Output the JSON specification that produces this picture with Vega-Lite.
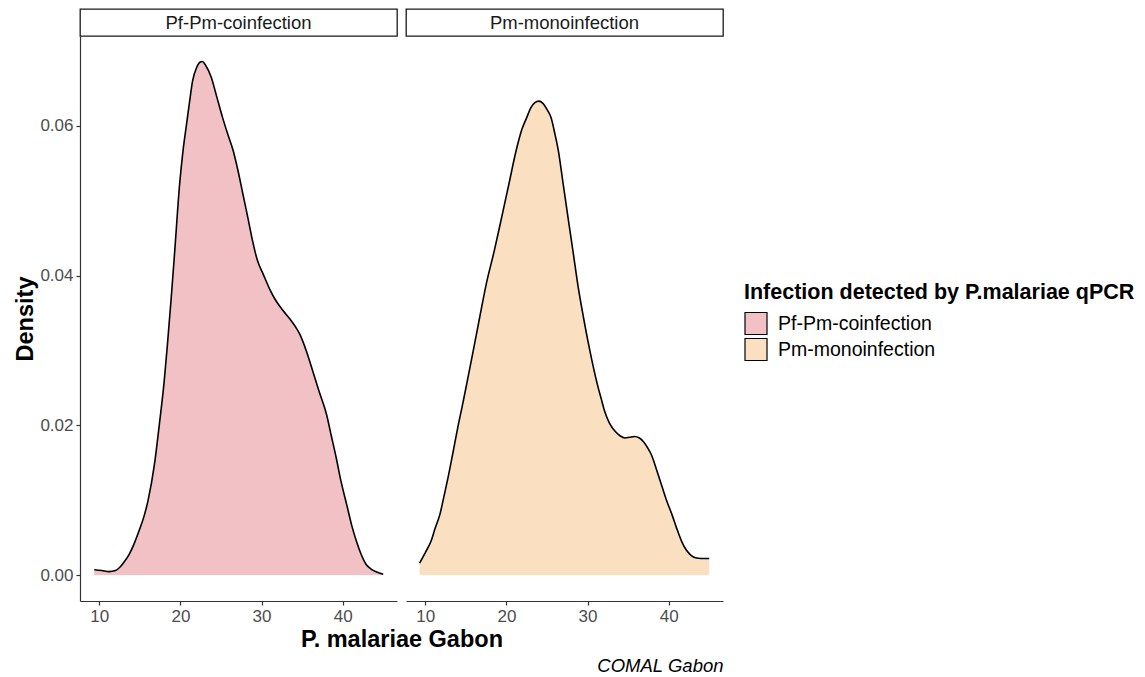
{
  "$schema": "https://vega.github.io/schema/vega-lite/v6.json",
  "background": "white",
  "padding": {"left": 13, "top": 8, "right": 0, "bottom": 0},
  "config": {
    "font": "Liberation Sans",
    "view": {"stroke": null},
    "axis": {"domainColor": "#333333", "domainWidth": 1.2, "tickColor": "#333333", "tickWidth": 1.2, "tickSize": 4, "labelColor": "#4D4D4D", "labelFontSize": 17, "labelPadding": 3, "grid": false, "titleColor": "black", "titleFontWeight": "bold"},
    "legend": {"padding": 0}
  },
  "datasets": {
    "strips": [{"infection": "Pf-Pm-coinfection"}, {"infection": "Pm-monoinfection"}],
    "dens": [
      {"infection": "Pf-Pm-coinfection", "x": 9.38, "d": 0.0007},
      {"infection": "Pf-Pm-coinfection", "x": 10.3, "d": 0.0006},
      {"infection": "Pf-Pm-coinfection", "x": 11.2, "d": 0.00045},
      {"infection": "Pf-Pm-coinfection", "x": 12.0, "d": 0.0006},
      {"infection": "Pf-Pm-coinfection", "x": 12.5, "d": 0.001},
      {"infection": "Pf-Pm-coinfection", "x": 13.1, "d": 0.0018},
      {"infection": "Pf-Pm-coinfection", "x": 13.7, "d": 0.0028},
      {"infection": "Pf-Pm-coinfection", "x": 14.3, "d": 0.0042},
      {"infection": "Pf-Pm-coinfection", "x": 14.9, "d": 0.0059},
      {"infection": "Pf-Pm-coinfection", "x": 15.5, "d": 0.0078},
      {"infection": "Pf-Pm-coinfection", "x": 16.0, "d": 0.0099},
      {"infection": "Pf-Pm-coinfection", "x": 16.8, "d": 0.0148},
      {"infection": "Pf-Pm-coinfection", "x": 17.4, "d": 0.0201},
      {"infection": "Pf-Pm-coinfection", "x": 18.0, "d": 0.0259},
      {"infection": "Pf-Pm-coinfection", "x": 18.4, "d": 0.0308},
      {"infection": "Pf-Pm-coinfection", "x": 18.9, "d": 0.0375},
      {"infection": "Pf-Pm-coinfection", "x": 19.3, "d": 0.0433},
      {"infection": "Pf-Pm-coinfection", "x": 19.9, "d": 0.0522},
      {"infection": "Pf-Pm-coinfection", "x": 20.3, "d": 0.0565},
      {"infection": "Pf-Pm-coinfection", "x": 20.7, "d": 0.0598},
      {"infection": "Pf-Pm-coinfection", "x": 21.1, "d": 0.063},
      {"infection": "Pf-Pm-coinfection", "x": 21.5, "d": 0.066},
      {"infection": "Pf-Pm-coinfection", "x": 22.0, "d": 0.0678},
      {"infection": "Pf-Pm-coinfection", "x": 22.4, "d": 0.0685},
      {"infection": "Pf-Pm-coinfection", "x": 22.7, "d": 0.0686},
      {"infection": "Pf-Pm-coinfection", "x": 23.1, "d": 0.0681},
      {"infection": "Pf-Pm-coinfection", "x": 23.8, "d": 0.0665},
      {"infection": "Pf-Pm-coinfection", "x": 24.5, "d": 0.0638},
      {"infection": "Pf-Pm-coinfection", "x": 25.2, "d": 0.0611},
      {"infection": "Pf-Pm-coinfection", "x": 25.8, "d": 0.059},
      {"infection": "Pf-Pm-coinfection", "x": 26.5, "d": 0.0567},
      {"infection": "Pf-Pm-coinfection", "x": 27.1, "d": 0.054},
      {"infection": "Pf-Pm-coinfection", "x": 27.7, "d": 0.0509},
      {"infection": "Pf-Pm-coinfection", "x": 28.3, "d": 0.0478},
      {"infection": "Pf-Pm-coinfection", "x": 28.9, "d": 0.0446},
      {"infection": "Pf-Pm-coinfection", "x": 29.5, "d": 0.042},
      {"infection": "Pf-Pm-coinfection", "x": 30.2, "d": 0.0402},
      {"infection": "Pf-Pm-coinfection", "x": 31.0, "d": 0.0382},
      {"infection": "Pf-Pm-coinfection", "x": 31.8, "d": 0.0366},
      {"infection": "Pf-Pm-coinfection", "x": 32.6, "d": 0.0354},
      {"infection": "Pf-Pm-coinfection", "x": 33.5, "d": 0.0342},
      {"infection": "Pf-Pm-coinfection", "x": 34.1, "d": 0.0333},
      {"infection": "Pf-Pm-coinfection", "x": 34.7, "d": 0.0322},
      {"infection": "Pf-Pm-coinfection", "x": 35.5, "d": 0.03},
      {"infection": "Pf-Pm-coinfection", "x": 36.3, "d": 0.0273},
      {"infection": "Pf-Pm-coinfection", "x": 37.1, "d": 0.0245},
      {"infection": "Pf-Pm-coinfection", "x": 38.0, "d": 0.0215},
      {"infection": "Pf-Pm-coinfection", "x": 38.6, "d": 0.0186},
      {"infection": "Pf-Pm-coinfection", "x": 39.2, "d": 0.0157},
      {"infection": "Pf-Pm-coinfection", "x": 39.8, "d": 0.0125},
      {"infection": "Pf-Pm-coinfection", "x": 40.5, "d": 0.0094},
      {"infection": "Pf-Pm-coinfection", "x": 41.1, "d": 0.0067},
      {"infection": "Pf-Pm-coinfection", "x": 41.7, "d": 0.0045},
      {"infection": "Pf-Pm-coinfection", "x": 42.3, "d": 0.0027},
      {"infection": "Pf-Pm-coinfection", "x": 42.9, "d": 0.0014},
      {"infection": "Pf-Pm-coinfection", "x": 43.5, "d": 0.0008},
      {"infection": "Pf-Pm-coinfection", "x": 44.2, "d": 0.0004},
      {"infection": "Pf-Pm-coinfection", "x": 45.0, "d": 0.0001},
      {"infection": "Pm-monoinfection", "x": 9.3, "d": 0.0016},
      {"infection": "Pm-monoinfection", "x": 10.0, "d": 0.003},
      {"infection": "Pm-monoinfection", "x": 10.7, "d": 0.0045},
      {"infection": "Pm-monoinfection", "x": 11.2, "d": 0.0062},
      {"infection": "Pm-monoinfection", "x": 11.8, "d": 0.0081},
      {"infection": "Pm-monoinfection", "x": 12.3, "d": 0.0105},
      {"infection": "Pm-monoinfection", "x": 12.8, "d": 0.013},
      {"infection": "Pm-monoinfection", "x": 13.4, "d": 0.0163},
      {"infection": "Pm-monoinfection", "x": 14.0, "d": 0.0197},
      {"infection": "Pm-monoinfection", "x": 14.6, "d": 0.0228},
      {"infection": "Pm-monoinfection", "x": 15.1, "d": 0.0255},
      {"infection": "Pm-monoinfection", "x": 15.9, "d": 0.0299},
      {"infection": "Pm-monoinfection", "x": 16.7, "d": 0.0344},
      {"infection": "Pm-monoinfection", "x": 17.5, "d": 0.0388},
      {"infection": "Pm-monoinfection", "x": 18.5, "d": 0.0433},
      {"infection": "Pm-monoinfection", "x": 19.4, "d": 0.0477},
      {"infection": "Pm-monoinfection", "x": 20.3, "d": 0.0522},
      {"infection": "Pm-monoinfection", "x": 21.2, "d": 0.0567},
      {"infection": "Pm-monoinfection", "x": 21.9, "d": 0.0595},
      {"infection": "Pm-monoinfection", "x": 22.5, "d": 0.0611},
      {"infection": "Pm-monoinfection", "x": 23.0, "d": 0.0624},
      {"infection": "Pm-monoinfection", "x": 23.5, "d": 0.0631},
      {"infection": "Pm-monoinfection", "x": 24.0, "d": 0.0633},
      {"infection": "Pm-monoinfection", "x": 24.5, "d": 0.063},
      {"infection": "Pm-monoinfection", "x": 25.0, "d": 0.0622},
      {"infection": "Pm-monoinfection", "x": 25.5, "d": 0.0611},
      {"infection": "Pm-monoinfection", "x": 26.0, "d": 0.0588},
      {"infection": "Pm-monoinfection", "x": 26.4, "d": 0.0567},
      {"infection": "Pm-monoinfection", "x": 27.0, "d": 0.0522},
      {"infection": "Pm-monoinfection", "x": 27.6, "d": 0.0477},
      {"infection": "Pm-monoinfection", "x": 28.2, "d": 0.0433},
      {"infection": "Pm-monoinfection", "x": 28.8, "d": 0.0388},
      {"infection": "Pm-monoinfection", "x": 29.5, "d": 0.0344},
      {"infection": "Pm-monoinfection", "x": 30.3, "d": 0.0299},
      {"infection": "Pm-monoinfection", "x": 31.2, "d": 0.0255},
      {"infection": "Pm-monoinfection", "x": 31.7, "d": 0.0235},
      {"infection": "Pm-monoinfection", "x": 32.1, "d": 0.0219},
      {"infection": "Pm-monoinfection", "x": 32.7, "d": 0.0203},
      {"infection": "Pm-monoinfection", "x": 33.4, "d": 0.0192},
      {"infection": "Pm-monoinfection", "x": 34.0, "d": 0.0186},
      {"infection": "Pm-monoinfection", "x": 34.6, "d": 0.0183},
      {"infection": "Pm-monoinfection", "x": 35.2, "d": 0.0184},
      {"infection": "Pm-monoinfection", "x": 35.8, "d": 0.0185},
      {"infection": "Pm-monoinfection", "x": 36.4, "d": 0.0183},
      {"infection": "Pm-monoinfection", "x": 36.9, "d": 0.0178},
      {"infection": "Pm-monoinfection", "x": 37.4, "d": 0.017},
      {"infection": "Pm-monoinfection", "x": 37.9, "d": 0.016},
      {"infection": "Pm-monoinfection", "x": 38.5, "d": 0.0141},
      {"infection": "Pm-monoinfection", "x": 39.1, "d": 0.0121},
      {"infection": "Pm-monoinfection", "x": 39.7, "d": 0.0101},
      {"infection": "Pm-monoinfection", "x": 40.4, "d": 0.0081},
      {"infection": "Pm-monoinfection", "x": 41.0, "d": 0.0062},
      {"infection": "Pm-monoinfection", "x": 41.6, "d": 0.0045},
      {"infection": "Pm-monoinfection", "x": 42.2, "d": 0.0033},
      {"infection": "Pm-monoinfection", "x": 42.8, "d": 0.0026},
      {"infection": "Pm-monoinfection", "x": 43.3, "d": 0.0023},
      {"infection": "Pm-monoinfection", "x": 44.0, "d": 0.0022},
      {"infection": "Pm-monoinfection", "x": 45.0, "d": 0.0022}
    ]
  },
  "columns": 2,
  "spacing": {"row": 0, "column": 9},
  "bounds": "flush",
  "resolve": {"scale": {"fill": "shared"}},
  "concat": [
    {
      "data": {"name": "strips"},
      "transform": [{"filter": "datum.infection === 'Pf-Pm-coinfection'"}],
      "width": 317, "height": 27,
      "view": {"stroke": "#1A1A1A", "strokeWidth": 1.3, "fill": "white"},
      "mark": {"type": "text", "fontSize": 18.5, "color": "#1A1A1A"},
      "encoding": {"text": {"field": "infection"}}
    },
    {
      "data": {"name": "strips"},
      "transform": [{"filter": "datum.infection === 'Pm-monoinfection'"}],
      "width": 317, "height": 27,
      "view": {"stroke": "#1A1A1A", "strokeWidth": 1.3, "fill": "white"},
      "mark": {"type": "text", "fontSize": 18.5, "color": "#1A1A1A"},
      "encoding": {"text": {"field": "infection"}}
    },
    {
      "data": {"name": "dens"},
      "transform": [{"filter": "datum.infection === 'Pf-Pm-coinfection'"}],
      "width": 317, "height": 565,
      "encoding": {
        "x": {"field": "x", "type": "quantitative", "scale": {"domain": [7.62, 46.7], "nice": false, "zero": false},
              "axis": {"values": [10, 20, 30, 40], "title": "P. malariae Gabon", "titleFontSize": 23.5, "titleX": 321.5, "titleAlign": "center", "titlePadding": 3}},
        "y": {"field": "d", "type": "quantitative", "scale": {"domain": [-0.00347, 0.072], "nice": false, "zero": false},
              "axis": {"values": [0, 0.02, 0.04, 0.06], "format": ".2f", "title": "Density", "titleFontSize": 23.5, "titlePadding": 2}}
      },
      "layer": [
        {"mark": {"type": "area", "opacity": 1, "interpolate": "monotone"},
         "encoding": {"y2": {"datum": 0},
           "fill": {"field": "infection", "type": "nominal",
             "scale": {"domain": ["Pf-Pm-coinfection", "Pm-monoinfection"], "range": ["#F2C1C5", "#FADFC0"]},
             "legend": {"title": "Infection detected by P.malariae qPCR", "orient": "none", "legendX": 664, "legendY": 273, "titleFontSize": 21.5, "titleFontWeight": "bold", "titleColor": "black", "titlePadding": 8, "titleLimit": 1000, "labelFontSize": 19.5, "labelColor": "black", "labelOffset": 10, "labelLimit": 1000, "symbolType": "square", "symbolSize": 484, "symbolStrokeColor": "black", "symbolStrokeWidth": 1.2, "rowPadding": -7, "symbolOpacity": 1}}}},
        {"mark": {"type": "line", "color": "black", "strokeWidth": 1.6, "interpolate": "monotone"}, "encoding": {}}
      ]
    },
    {
      "data": {"name": "dens"},
      "transform": [{"filter": "datum.infection === 'Pm-monoinfection'"}],
      "width": 317, "height": 565,
      "encoding": {
        "x": {"field": "x", "type": "quantitative", "scale": {"domain": [7.62, 46.7], "nice": false, "zero": false},
              "axis": {"values": [10, 20, 30, 40], "title": "COMAL Gabon", "titleFontSize": 18.5, "titleFontWeight": "normal", "titleFontStyle": "italic", "titleAnchor": "end", "titleColor": "black", "titlePadding": 32}},
        "y": {"field": "d", "type": "quantitative", "scale": {"domain": [-0.00347, 0.072], "nice": false, "zero": false}, "axis": null}
      },
      "layer": [
        {"mark": {"type": "area", "opacity": 1, "interpolate": "monotone"},
         "encoding": {"y2": {"datum": 0},
           "fill": {"field": "infection", "type": "nominal",
             "scale": {"domain": ["Pf-Pm-coinfection", "Pm-monoinfection"], "range": ["#F2C1C5", "#FADFC0"]},
             "legend": {"title": "Infection detected by P.malariae qPCR", "orient": "none", "legendX": 664, "legendY": 273, "titleFontSize": 21.5, "titleFontWeight": "bold", "titleColor": "black", "titlePadding": 8, "titleLimit": 1000, "labelFontSize": 19.5, "labelColor": "black", "labelOffset": 10, "labelLimit": 1000, "symbolType": "square", "symbolSize": 484, "symbolStrokeColor": "black", "symbolStrokeWidth": 1.2, "rowPadding": -7, "symbolOpacity": 1}}}},
        {"mark": {"type": "line", "color": "black", "strokeWidth": 1.6, "interpolate": "monotone"}, "encoding": {}}
      ]
    }
  ]
}
